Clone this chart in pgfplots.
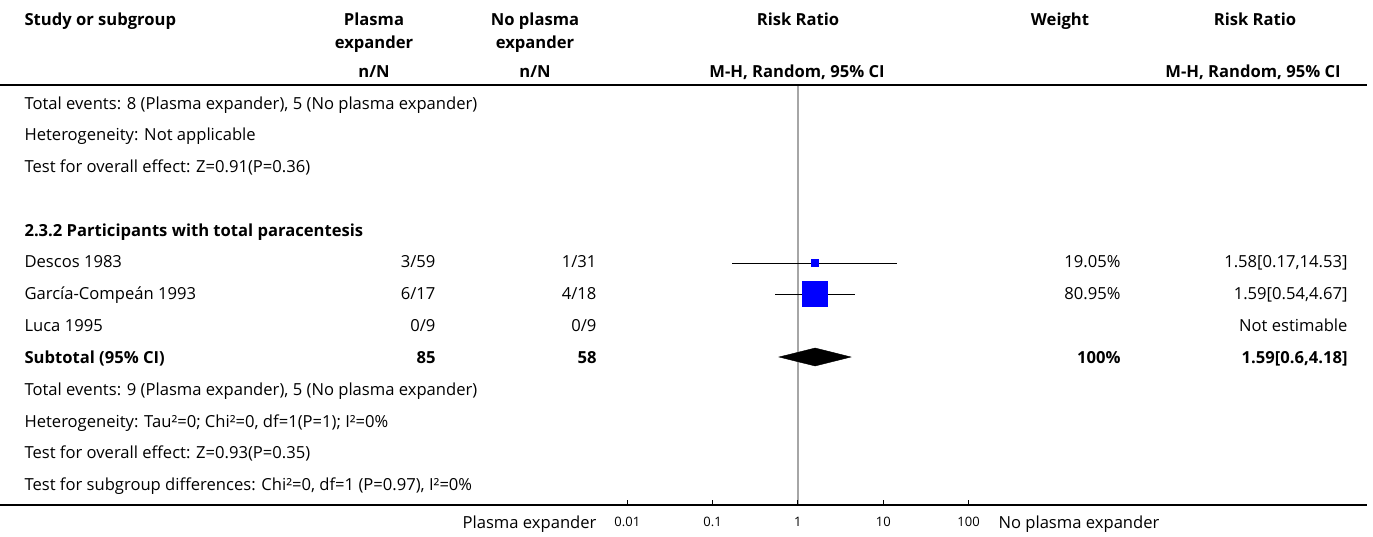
\documentclass[border=0pt]{standalone}
\usepackage{fontspec}
\setmainfont{Open Sans}
\usepackage{pgfplots}
\pgfplotsset{compat=1.18}
\newcommand{\rf}{\fontsize{16.6}{19}\selectfont}
\newcommand{\bfn}{\fontsize{16.6}{19}\selectfont\bfseries}
\begin{document}
\begin{tikzpicture}[x=1pt,y=-1pt,font=\rf]
\path[use as bounding box] (0,0) rectangle (1373,537);
\begin{axis}[at={(627.3pt,-505pt)}, anchor=south west, scale only axis,
  width=341.3pt, height=420pt, xmode=log, xmin=0.01, xmax=100,
  ymin=85, ymax=505, y dir=reverse, axis y line=none, axis x line*=bottom,
  x axis line style={-, line width=1.2pt},
  xtick={0.01,0.1,1,10,100}, xticklabels={0.01,0.1,1,10,100}, xminorticks=false,
  major tick length=0pt,
  x tick label style={font=\fontsize{13}{15}\selectfont, anchor=base, yshift=-21pt},
  clip=false]
\addplot[color=gray!70, line width=1.2pt] coordinates {(1,85) (1,505)};
\addplot[black, line width=1pt] coordinates {(0.01,500) (0.01,505)};
\addplot[black, line width=1pt] coordinates {(0.1,500) (0.1,505)};
\addplot[black, line width=1pt] coordinates {(1,500) (1,505)};
\addplot[black, line width=1pt] coordinates {(10,500) (10,505)};
\addplot[black, line width=1pt] coordinates {(100,500) (100,505)};
\addplot[black, line width=1pt] coordinates {(0.17,263) (14.53,263)};
\addplot[black, line width=1pt] coordinates {(0.54,294) (4.67,294)};
\addplot[only marks, mark=square*, mark size=3.5pt, color=blue] coordinates {(1.58,263)};
\addplot[only marks, mark=square*, mark size=12.5pt, color=blue] coordinates {(1.59,294)};
\addplot[black, line width=0.8pt] coordinates {(1.58,259) (1.58,267)};
\addplot[black, line width=0.8pt] coordinates {(1.59,289) (1.59,299)};
\addplot[fill=black, draw=black] coordinates {(0.6,357) (1.59,348) (4.18,357) (1.59,366)} -- cycle;
\end{axis}
% header
\node[anchor=base west, font=\bfn] at (21,26) {Study or subgroup};
\node[anchor=base, font=\bfn] at (374,26) {Plasma};
\node[anchor=base, font=\bfn] at (374,48.5) {expander};
\node[anchor=base, font=\bfn] at (374,78) {n/N};
\node[anchor=base, font=\bfn] at (535,26) {No plasma};
\node[anchor=base, font=\bfn] at (535,48.5) {expander};
\node[anchor=base, font=\bfn] at (535,78) {n/N};
\node[anchor=base, font=\bfn] at (798,26) {Risk Ratio};
\node[anchor=base, font=\bfn] at (797,78) {M-H, Random, 95\% CI};
\node[anchor=base, font=\bfn] at (1060,26) {Weight};
\node[anchor=base, font=\bfn] at (1255,26) {Risk Ratio};
\node[anchor=base, font=\bfn] at (1253,78) {M-H, Random, 95\% CI};
\draw[line width=1.2pt] (0,85) -- (1367,85);
\draw[line width=1.2pt] (0,505) -- (1367,505);
% rows
\node[anchor=base west] at (21,109.5) {Total events: 8 (Plasma expander), 5 (No plasma expander)};
\node[anchor=base west] at (21,141) {Heterogeneity: Not applicable};
\node[anchor=base west] at (21,173) {Test for overall effect: Z=0.91(P=0.36)};
\node[anchor=base west, font=\bfn] at (21,236.5) {2.3.2 Participants with total paracentesis};
\node[anchor=base west] at (21,268) {Descos 1983};
\node[anchor=base east] at (439,268) {3/59};
\node[anchor=base east] at (600,268) {1/31};
\node[anchor=base east] at (1124,268) {19.05\%};
\node[anchor=base east] at (1351,268) {1.58[0.17,14.53]};
\node[anchor=base west] at (21,300) {García-Compeán 1993};
\node[anchor=base east] at (439,300) {6/17};
\node[anchor=base east] at (600,300) {4/18};
\node[anchor=base east] at (1124,300) {80.95\%};
\node[anchor=base east] at (1351,300) {1.59[0.54,4.67]};
\node[anchor=base west] at (21,331.5) {Luca 1995};
\node[anchor=base east] at (439,331.5) {0/9};
\node[anchor=base east] at (600,331.5) {0/9};
\node[anchor=base east] at (1351,331.5) {Not estimable};
\node[anchor=base west, font=\bfn] at (21,363.5) {Subtotal (95\% CI)};
\node[anchor=base east, font=\bfn] at (439,363.5) {85};
\node[anchor=base east, font=\bfn] at (600,363.5) {58};
\node[anchor=base east, font=\bfn] at (1124,363.5) {100\%};
\node[anchor=base east, font=\bfn] at (1351,363.5) {1.59[0.6,4.18]};
\node[anchor=base west] at (21,395) {Total events: 9 (Plasma expander), 5 (No plasma expander)};
\node[anchor=base west] at (21,427) {Heterogeneity: Tau²=0; Chi²=0, df=1(P=1); I²=0\%};
\node[anchor=base west] at (21,458.5) {Test for overall effect: Z=0.93(P=0.35)};
\node[anchor=base west] at (21,490.5) {Test for subgroup differences: Chi²=0, df=1 (P=0.97), I²=0\%};
% bottom labels
\node[anchor=base east] at (600,528) {Plasma expander};
\node[anchor=base west] at (995,528) {No plasma expander};
\end{tikzpicture}
\end{document}
